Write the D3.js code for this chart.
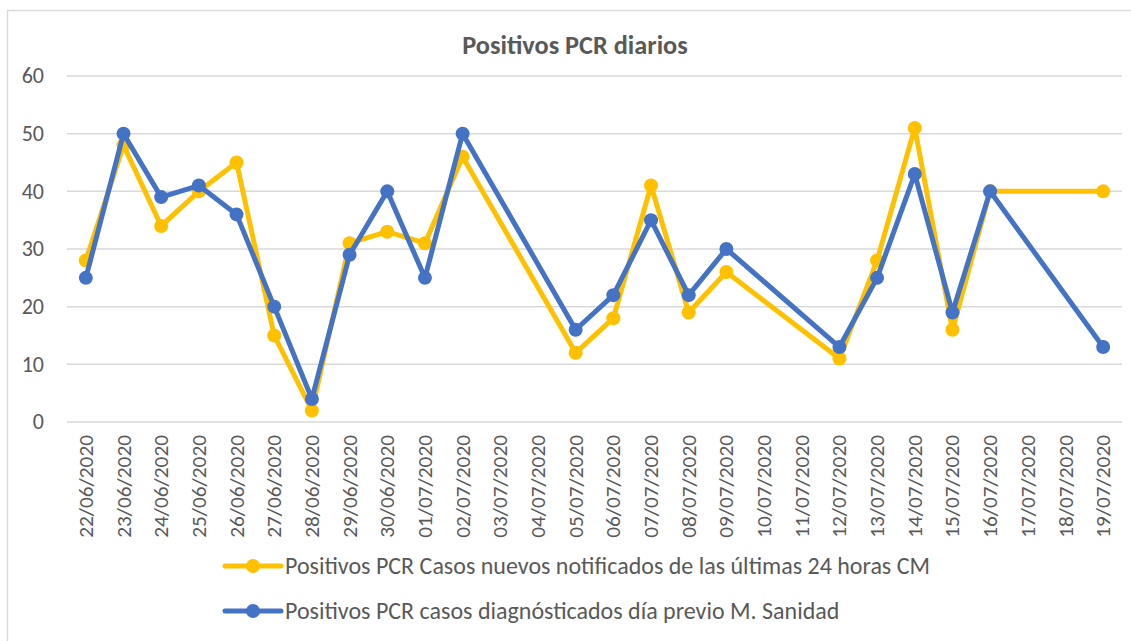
<!DOCTYPE html>
<html>
<head>
<meta charset="utf-8">
<script src="https://cdn.jsdelivr.net/npm/d3@7"></script>
<style>
  html, body { margin: 0; padding: 0; background: #fff; }
  svg text { font-family: Carlito, Calibri, "Liberation Sans Narrow", "Open Sans", sans-serif; fill: #595959; }
</style>
</head>
<body>
<div id="chart"></div>
<script>
const dates = ["22/06/2020","23/06/2020","24/06/2020","25/06/2020","26/06/2020","27/06/2020","28/06/2020",
  "29/06/2020","30/06/2020","01/07/2020","02/07/2020","03/07/2020","04/07/2020","05/07/2020",
  "06/07/2020","07/07/2020","08/07/2020","09/07/2020","10/07/2020","11/07/2020","12/07/2020",
  "13/07/2020","14/07/2020","15/07/2020","16/07/2020","17/07/2020","18/07/2020","19/07/2020"];

const casosCM = [28,48,34,40,45,15,2,31,33,31,46,null,null,12,18,41,19,26,null,null,11,28,51,16,40,null,null,40];
const casosSanidad = [25,50,39,41,36,20,4,29,40,25,50,null,null,16,22,35,22,30,null,null,13,25,43,19,40,null,null,13];

const yTicks = [0,10,20,30,40,50,60];

const series = [
  { name: "Positivos PCR Casos nuevos notificados de las últimas 24 horas CM", values: casosCM, color: "#FFC000" },
  { name: "Positivos PCR casos diagnósticados día previo M. Sanidad", values: casosSanidad, color: "#4472C4" }
];

const width = 1131, height = 641;
const svg = d3.select("#chart").append("svg").attr("width", width).attr("height", height);

// chart area border (only left/top visible in the crop)
svg.append("rect")
  .attr("x", 7.5).attr("y", 10.5).attr("width", 1140).attr("height", 660)
  .attr("fill", "none").attr("stroke", "#d9d9d9").attr("stroke-width", 1.5);

svg.append("text")
  .attr("x", 575).attr("y", 54)
  .attr("text-anchor", "middle")
  .attr("font-size", 26.3).attr("font-weight", "bold")
  .text("Positivos PCR diarios");

const x = d3.scaleBand().domain(dates).range([67, 1122]);
const y = d3.scaleLinear().domain([0, 60]).range([422, 76]);

svg.append("g")
  .selectAll("line")
  .data(yTicks)
  .join("line")
  .attr("x1", 67).attr("x2", 1122)
  .attr("y1", d => y(d)).attr("y2", d => y(d))
  .attr("stroke", "#d9d9d9").attr("stroke-width", 1.5);

svg.append("g")
  .selectAll("text")
  .data(yTicks)
  .join("text")
  .attr("x", 44).attr("y", d => y(d))
  .attr("dy", "0.33em")
  .attr("text-anchor", "end")
  .attr("font-size", 22)
  .text(d => d);

svg.append("g")
  .selectAll("text")
  .data(dates)
  .join("text")
  .attr("transform", d => `translate(${x(d) + x.bandwidth() / 2},435) rotate(-90)`)
  .attr("dy", "0.33em")
  .attr("text-anchor", "end")
  .attr("font-size", 21.3)
  .text(d => d);

const line = d3.line()
  .x(d => x(d.date) + x.bandwidth() / 2)
  .y(d => y(d.v));

series.forEach(s => {
  const pts = dates.map((date, i) => ({ date, v: s.values[i] })).filter(d => d.v != null);
  const g = svg.append("g");
  g.append("path")
    .attr("d", line(pts))
    .attr("fill", "none")
    .attr("stroke", s.color)
    .attr("stroke-width", 5)
    .attr("stroke-linejoin", "round");
  g.selectAll("circle")
    .data(pts)
    .join("circle")
    .attr("cx", d => x(d.date) + x.bandwidth() / 2)
    .attr("cy", d => y(d.v))
    .attr("r", 7)
    .attr("fill", s.color);
});

const legend = svg.append("g")
  .selectAll("g")
  .data(series)
  .join("g")
  .attr("transform", (d, i) => `translate(225,${566 + i * 45})`);

legend.append("line")
  .attr("x1", 0).attr("x2", 56)
  .attr("stroke", d => d.color).attr("stroke-width", 5).attr("stroke-linecap", "round");
legend.append("circle")
  .attr("cx", 28).attr("r", 7).attr("fill", d => d.color);
legend.append("text")
  .attr("x", 60).attr("dy", "0.33em")
  .attr("font-size", 24)
  .text(d => d.name);
</script>
</body>
</html>
